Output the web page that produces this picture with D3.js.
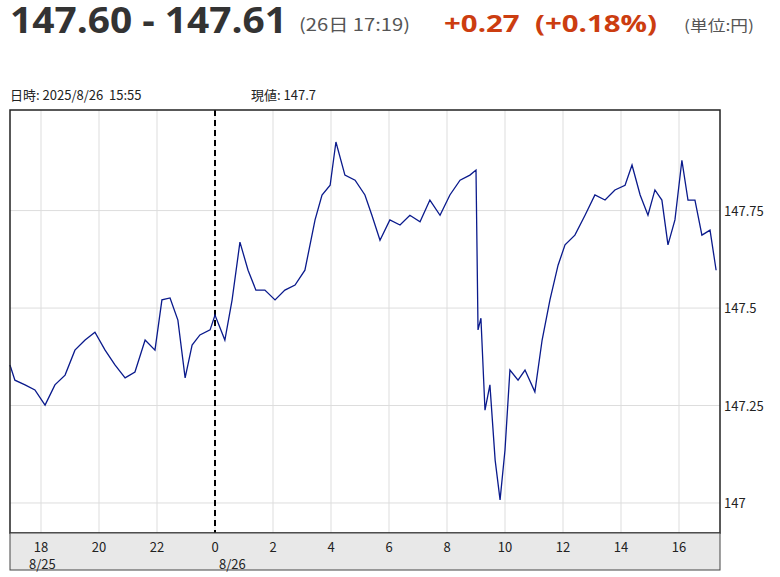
<!DOCTYPE html>
<html><head><meta charset="utf-8">
<script src="https://cdn.jsdelivr.net/npm/d3@7"></script>
<style>body{margin:0;background:#fff;font-family:"Noto Sans CJK JP","Noto Sans",sans-serif}</style>
</head><body><svg id="c" width="780" height="577"></svg>
<script>
// hours since 8/25 00:00
const hours = [16.93,17.10,17.45,17.79,18.14,18.48,18.83,19.17,19.52,19.86,20.21,20.55,20.90,21.24,21.59,21.93,22.17,22.45,22.72,22.97,23.21,23.48,23.83,24.00,24.34,24.59,24.86,25.14,25.41,25.72,26.07,26.41,26.76,27.10,27.45,27.69,27.97,28.17,28.48,28.83,29.17,29.41,29.69,30.03,30.38,30.72,31.07,31.41,31.76,32.10,32.45,32.79,33.00,33.07,33.17,33.31,33.48,33.66,33.83,34.00,34.17,34.45,34.69,35.03,35.28,35.55,35.83,36.07,36.41,36.76,37.10,37.45,37.79,38.14,38.38,38.66,38.93,39.17,39.41,39.62,39.86,40.10,40.31,40.55,40.79,41.07,41.28];
const prices = [147.354,147.315,147.303,147.290,147.251,147.303,147.328,147.392,147.418,147.438,147.392,147.354,147.321,147.336,147.418,147.392,147.521,147.526,147.469,147.321,147.405,147.431,147.444,147.482,147.418,147.521,147.669,147.597,147.546,147.546,147.521,147.546,147.559,147.597,147.726,147.790,147.815,147.926,147.841,147.828,147.790,147.738,147.674,147.726,147.713,147.738,147.721,147.777,147.738,147.790,147.828,147.841,147.854,147.444,147.474,147.238,147.303,147.110,147.008,147.136,147.341,147.315,147.341,147.285,147.418,147.521,147.610,147.662,147.687,147.738,147.790,147.777,147.803,147.815,147.867,147.790,147.738,147.803,147.777,147.662,147.726,147.879,147.777,147.777,147.687,147.700,147.597];
const xTicks = [18,20,22,24,26,28,30,32,34,36,38,40];
const xTickLabels = ["18","20","22","0","2","4","6","8","10","12","14","16"];
const yTicks = [147,147.25,147.5,147.75];
const yTickLabels = ["147","147.25","147.5","147.75"];
const dateLabels = [{h:18,t:"8/25",dx:-12},{h:24,t:"8/26",dx:4}];

const svg = d3.select("#c");
const L=10,R=720,T=110,B=533;
const x = d3.scaleLinear().domain([18-31/29, 18+(R-41)/29]).range([L,R]);
const y = d3.scaleLinear().domain([146.923,148.008]).range([B,T]);

// header
svg.append("text").attr("x",10).attr("y",33).attr("font-size",35).attr("font-weight","bold").attr("fill","#333")
  .attr("font-family","'Open Sans',sans-serif").attr("textLength",277).attr("lengthAdjust","spacingAndGlyphs").text("147.60 - 147.61");
svg.append("text").attr("x",299).attr("y",31).attr("font-size",17).attr("fill","#555")
  .attr("textLength",111).attr("lengthAdjust","spacingAndGlyphs").text("(26日 17:19)");
svg.append("text").attr("x",444).attr("y",32).attr("font-size",24).attr("font-weight","bold").attr("fill","#cc3d10")
  .attr("font-family","'Open Sans',sans-serif").attr("textLength",213).attr("lengthAdjust","spacingAndGlyphs").text("+0.27\u00a0\u00a0(+0.18%)");
svg.append("text").attr("x",684).attr("y",31).attr("font-size",15).attr("fill","#555")
  .attr("textLength",70).attr("lengthAdjust","spacingAndGlyphs").text("(単位:円)");
svg.append("text").attr("x",10).attr("y",100).attr("font-size",13).attr("fill","#222").text("日時: 2025/8/26\u00a0\u00a015:55");
svg.append("text").attr("x",251).attr("y",100).attr("font-size",13).attr("fill","#222").text("現値: 147.7");

// grid
svg.append("g").selectAll("line").data(xTicks).join("line")
  .attr("x1",d=>x(d)).attr("x2",d=>x(d)).attr("y1",T).attr("y2",B).attr("stroke","#ddd");
svg.append("g").selectAll("line").data(yTicks).join("line")
  .attr("x1",L).attr("x2",R).attr("y1",d=>y(d)).attr("y2",d=>y(d)).attr("stroke","#ddd");

// midnight dashed line
svg.append("line").attr("x1",x(24)).attr("x2",x(24)).attr("y1",T).attr("y2",B)
  .attr("stroke","#000").attr("stroke-width",2).attr("stroke-dasharray","6,4");

// price line
svg.append("path").datum(hours.map((h,i)=>[h,prices[i]]))
  .attr("fill","none").attr("stroke","#0a1a8c").attr("stroke-width",1.3)
  .attr("d",d3.line().x(d=>x(d[0])).y(d=>y(d[1])));

svg.append("rect").attr("x",L).attr("y",T).attr("width",R-L).attr("height",B-T).attr("fill","none").attr("stroke","#222").attr("stroke-width",1.5);

// y labels
svg.append("g").selectAll("text").data(yTicks).join("text")
  .attr("x",R+4).attr("y",d=>y(d)+5).attr("font-size",13).attr("fill","#222").text((d,i)=>yTickLabels[i]);

// x band
svg.append("rect").attr("x",L).attr("y",B).attr("width",R-L).attr("height",37).attr("fill","#e8e8e8").attr("stroke","#444");
svg.append("g").selectAll("text").data(xTicks).join("text")
  .attr("x",d=>x(d)).attr("y",552).attr("text-anchor","middle").attr("font-size",13).attr("fill","#222").text((d,i)=>xTickLabels[i]);
svg.append("g").selectAll("text").data(dateLabels).join("text")
  .attr("x",d=>x(d.h)+d.dx).attr("y",569).attr("font-size",13).attr("fill","#222").text(d=>d.t);
</script></body></html>
